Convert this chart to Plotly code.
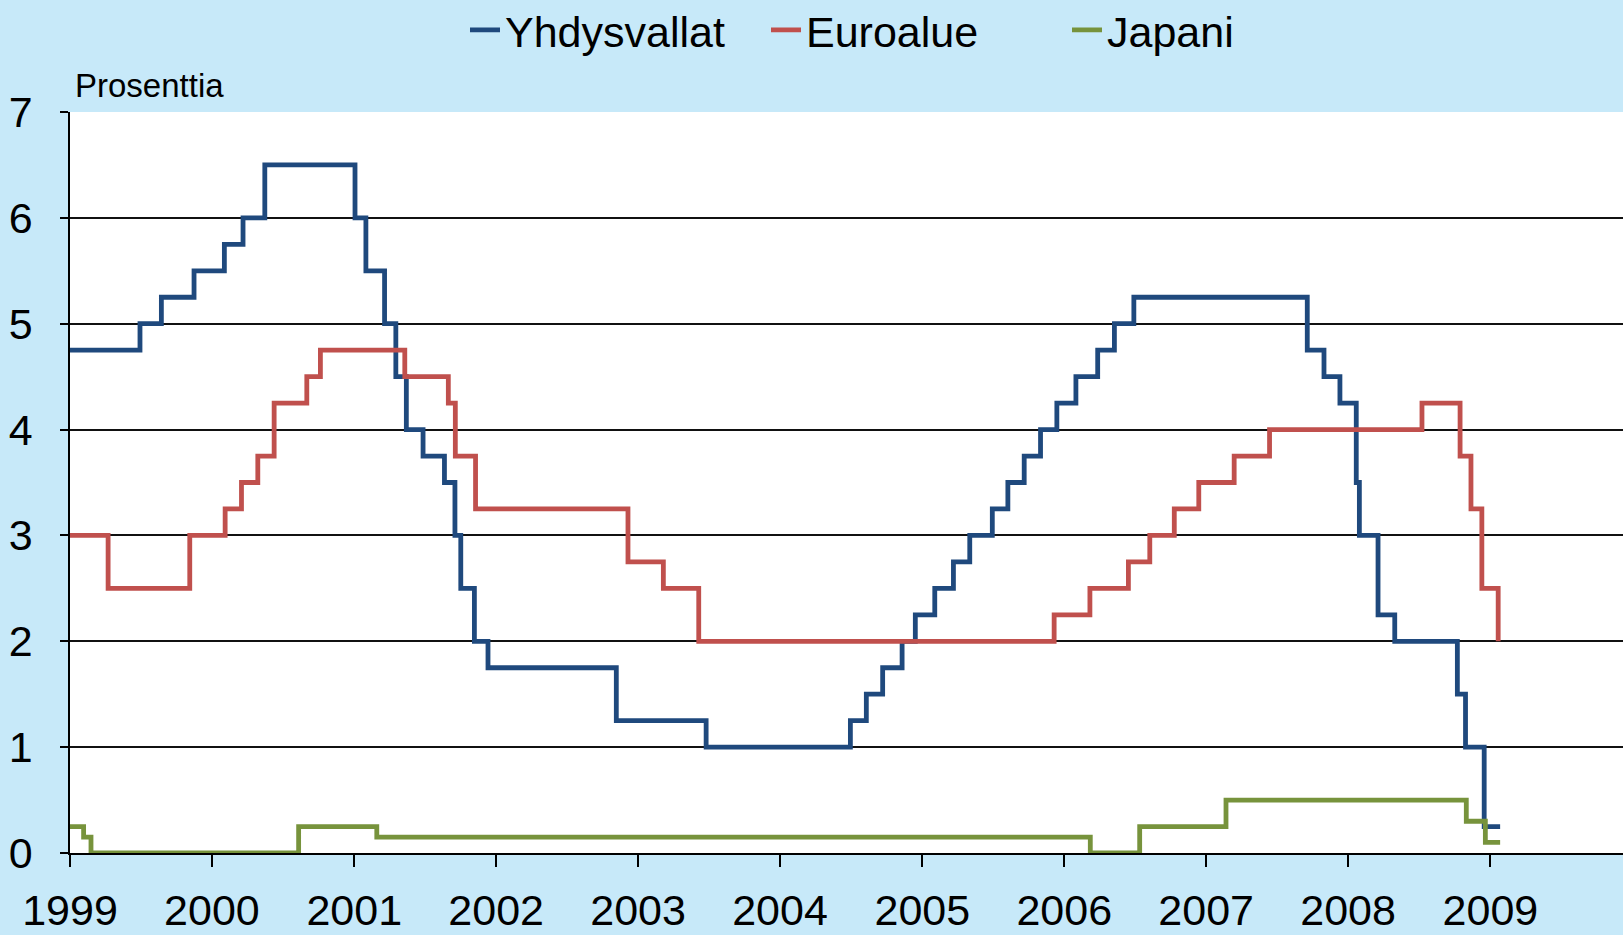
import plotly.graph_objects as go

# Policy rate change dates and levels (percent)
us_dates = ["1999-01-01", "1999-06-30", "1999-08-24", "1999-11-16", "2000-02-02", "2000-03-21",
            "2000-05-16", "2001-01-03", "2001-01-31", "2001-03-20", "2001-04-18", "2001-05-15",
            "2001-06-27", "2001-08-21", "2001-09-17", "2001-10-02", "2001-11-06", "2001-12-11",
            "2002-11-06", "2003-06-25", "2004-06-30", "2004-08-10", "2004-09-21", "2004-11-10",
            "2004-12-14", "2005-02-02", "2005-03-22", "2005-05-03", "2005-06-30", "2005-08-09",
            "2005-09-20", "2005-11-01", "2005-12-13", "2006-01-31", "2006-03-28", "2006-05-10",
            "2006-06-29", "2007-09-18", "2007-10-31", "2007-12-11", "2008-01-22", "2008-01-30",
            "2008-03-18", "2008-04-30", "2008-10-08", "2008-10-29", "2008-12-16", "2009-01-26"]
us_values = [4.75, 5.00, 5.25, 5.50, 5.75, 6.00,
             6.50, 6.00, 5.50, 5.00, 4.50, 4.00,
             3.75, 3.50, 3.00, 2.50, 2.00, 1.75,
             1.25, 1.00, 1.25, 1.50, 1.75, 2.00,
             2.25, 2.50, 2.75, 3.00, 3.25, 3.50,
             3.75, 4.00, 4.25, 4.50, 4.75, 5.00,
             5.25, 4.75, 4.50, 4.25, 3.50, 3.00,
             2.25, 2.00, 1.50, 1.00, 0.25, 0.25]

euro_dates = ["1999-01-01", "1999-04-09", "1999-11-05", "2000-02-04", "2000-03-17", "2000-04-28",
              "2000-06-09", "2000-09-01", "2000-10-06", "2001-05-11", "2001-08-31", "2001-09-18",
              "2001-11-09", "2002-12-06", "2003-03-07", "2003-06-06", "2005-12-06", "2006-03-08",
              "2006-06-15", "2006-08-09", "2006-10-11", "2006-12-13", "2007-03-14", "2007-06-13",
              "2008-07-09", "2008-10-15", "2008-11-12", "2008-12-10", "2009-01-21"]
euro_values = [3.00, 2.50, 3.00, 3.25, 3.50, 3.75,
               4.25, 4.50, 4.75, 4.50, 4.25, 3.75,
               3.25, 2.75, 2.50, 2.00, 2.25, 2.50,
               2.75, 3.00, 3.25, 3.50, 3.75, 4.00,
               4.25, 3.75, 3.25, 2.50, 2.00]

japan_dates = ["1999-01-01", "1999-02-05", "1999-02-24", "2000-08-11", "2001-02-28", "2006-03-09",
               "2006-07-14", "2007-02-21", "2008-10-31", "2008-12-19", "2009-01-26"]
japan_values = [0.25, 0.15, 0.00, 0.25, 0.15, 0.00,
                0.25, 0.50, 0.30, 0.10, 0.10]

series_names = ["Yhdysvallat", "Euroalue", "Japani"]
series_colors = ["#1f497d", "#c0504d", "#77933c"]
year_ticks = [f"{y}-01-01" for y in range(1999, 2010)]
year_labels = [str(y) for y in range(1999, 2010)]

FONT = "Liberation Sans, Arial, sans-serif"

fig = go.Figure()
for name, xs, ys, col in zip(series_names,
                             [us_dates, euro_dates, japan_dates],
                             [us_values, euro_values, japan_values],
                             series_colors):
    fig.add_trace(go.Scatter(x=xs, y=ys, name=name, mode="lines",
                             line=dict(color=col, width=4.8, shape="hv")))

fig.update_layout(
    width=1623, height=935,
    margin=dict(l=70, r=0, t=112, b=82),
    paper_bgcolor="#c7e9f9",
    plot_bgcolor="white",
    font=dict(family=FONT, color="black", size=43),
    showlegend=True,
    legend=dict(orientation="h", xref="container", x=465 / 1623, xanchor="left",
                yref="container", y=1 - 30 / 935, yanchor="middle",
                font=dict(size=43), bgcolor="rgba(0,0,0,0)", itemwidth=30,
                entrywidth=256, entrywidthmode="pixels", tracegroupgap=0),
    annotations=[dict(text="Prosenttia", xref="paper", yref="paper", x=0.002, y=1.036,
                      xanchor="left", yanchor="middle", showarrow=False,
                      font=dict(size=33, family=FONT))],
)
fig.update_xaxes(type="date", range=["1999-01-01", "2009-12-08"],
                 tickvals=year_ticks, ticktext=year_labels,
                 ticks="outside", ticklen=12, tickwidth=1.5, tickcolor="black",
                 ticklabelstandoff=7, automargin=False,
                 showline=True, linecolor="black", linewidth=1.5,
                 showgrid=False, zeroline=False, tickfont=dict(size=43))
fig.update_yaxes(range=[0, 7], tickvals=list(range(8)),
                 ticks="outside", ticklen=8, tickwidth=1.5, tickcolor="black",
                 ticklabelstandoff=19, automargin=False,
                 showline=True, linecolor="black", linewidth=1.5,
                 showgrid=True, gridcolor="#111111", gridwidth=1.5,
                 zeroline=False, tickfont=dict(size=43))

fig.write_html("out.html", config={"displayModeBar": False},
               post_script="document.body.style.margin='0';")
